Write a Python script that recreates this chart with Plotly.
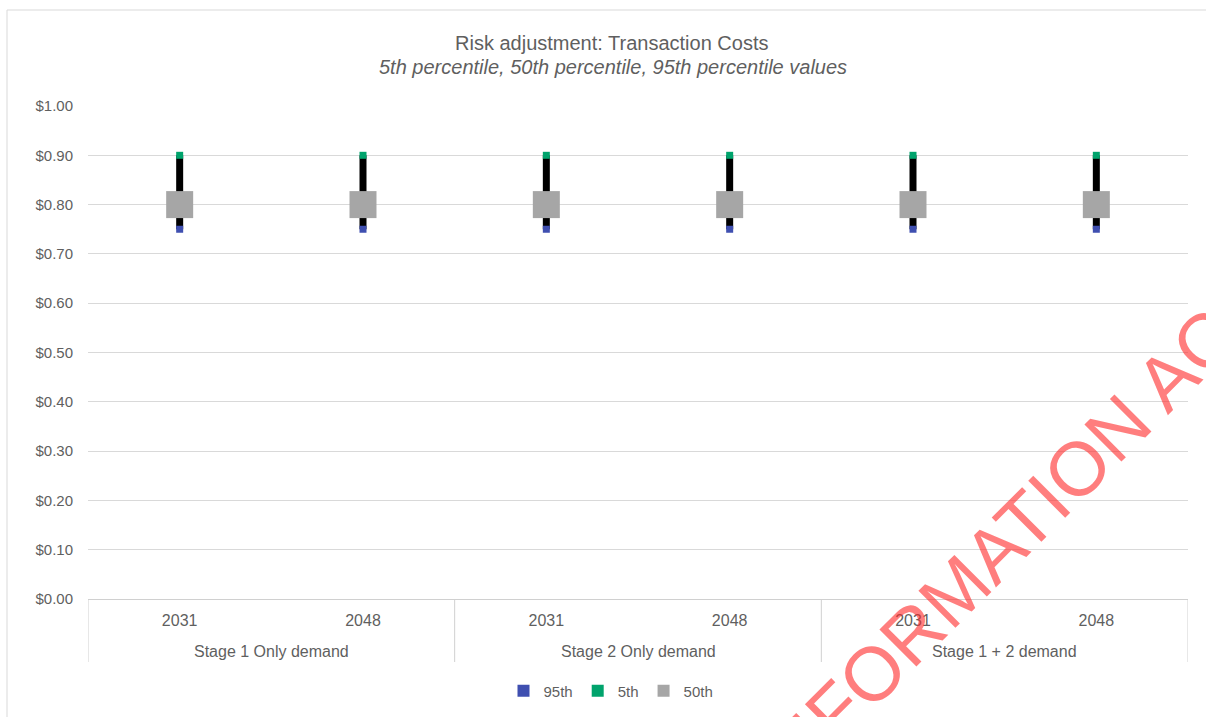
import plotly.graph_objects as go

# ---- data ----
years = ["2031", "2048", "2031", "2048", "2031", "2048"]
groups = ["Stage 1 Only demand", "Stage 2 Only demand", "Stage 1 + 2 demand"]
p95 = [0.75, 0.75, 0.75, 0.75, 0.75, 0.75]
p5 = [0.90, 0.90, 0.90, 0.90, 0.90, 0.90]
p50 = [0.80, 0.80, 0.80, 0.80, 0.80, 0.80]
y_ticks = [0.0, 0.1, 0.2, 0.3, 0.4, 0.5, 0.6, 0.7, 0.8, 0.9, 1.0]
y_ticktext = ["$0.00", "$0.10", "$0.20", "$0.30", "$0.40", "$0.50",
              "$0.60", "$0.70", "$0.80", "$0.90", "$1.00"]

xpos = list(range(len(years)))
FONT = "Liberation Sans, Arial, sans-serif"
GREY_TXT = "#5f5f5f"

fig = go.Figure()

# high-low lines (95th to 5th)
lx, ly = [], []
for i in xpos:
    lx += [i, i, None]
    ly += [p95[i], p5[i], None]
fig.add_trace(go.Scatter(x=lx, y=ly, mode="lines",
                         line=dict(color="#000000", width=7),
                         showlegend=False, hoverinfo="skip"))

fig.add_trace(go.Scatter(x=xpos, y=p95, mode="markers", name="95th",
                         marker=dict(symbol="square", size=7, color="#3f4fb0")))
fig.add_trace(go.Scatter(x=xpos, y=p5, mode="markers", name="5th",
                         marker=dict(symbol="square", size=7, color="#00a36c")))
fig.add_trace(go.Scatter(x=xpos, y=p50, mode="markers", name="50th",
                         marker=dict(symbol="square", size=27, color="#a6a6a6")))

# plot geometry (px): left 88, right 1188, top 106, bottom 599
W, H = 1206, 717
L, R, T, B = 88, 18, 106, 118
pw, ph = W - L - R, H - T - B

def py(px_y):
    return (H - B - px_y) / ph

def px(px_x):
    return (px_x - L) / pw

shapes = []
# group dividers on category axis
for xb in [-0.5, 1.5, 3.5, 5.5]:
    shapes.append(dict(type="line", xref="x", yref="paper", x0=xb, x1=xb,
                       y0=0, y1=py(662), line=dict(color="#d0d0d0", width=1)))
# outer chart border
shapes.append(dict(type="rect", xref="paper", yref="paper",
                   x0=px(7), x1=px(1260), y0=py(760), y1=py(10),
                   line=dict(color="#d9d9d9", width=1), fillcolor="rgba(0,0,0,0)",
                   layer="below"))

annotations = []
for gi, g in enumerate(groups):
    annotations.append(dict(x=gi * 2 + 0.5, xref="x", y=py(651), yref="paper",
                            text=g, showarrow=False,
                            font=dict(family=FONT, size=16, color=GREY_TXT),
                            xanchor="center", yanchor="middle"))
annotations.append(dict(x=px(611), xref="paper", y=py(43), yref="paper",
                        text="Risk adjustment: Transaction Costs", showarrow=False,
                        font=dict(family=FONT, size=20, color=GREY_TXT),
                        xanchor="center", yanchor="middle"))
annotations.append(dict(x=px(613), xref="paper", y=py(67), yref="paper",
                        text="<i>5th percentile, 50th percentile, 95th percentile values</i>",
                        showarrow=False,
                        font=dict(family=FONT, size=20, color=GREY_TXT),
                        xanchor="center", yanchor="middle"))
# watermark
annotations.append(dict(x=px(1010), xref="paper", y=py(535), yref="paper",
                        text="INFORMATION ACT", showarrow=False, textangle=-45,
                        font=dict(family=FONT, size=76, color="rgba(255,40,40,0.6)"),
                        xanchor="center", yanchor="middle"))

fig.update_layout(
    width=W, height=H,
    margin=dict(l=L, r=R, t=T, b=B, autoexpand=False),
    paper_bgcolor="white", plot_bgcolor="white",
    font=dict(family=FONT, color=GREY_TXT),
    shapes=shapes, annotations=annotations,
    legend=dict(orientation="h", x=px(611), xanchor="center", y=py(691),
                yanchor="middle", itemsizing="constant",
                font=dict(family=FONT, size=15, color=GREY_TXT),
                itemwidth=30, tracegroupgap=0),
    xaxis=dict(range=[-0.5, 5.5], tickmode="array", tickvals=xpos, ticktext=years,
               showgrid=False, zeroline=False, showline=True, linecolor="#d0d0d0",
               ticks="", ticklabelstandoff=7,
               tickfont=dict(family=FONT, size=16, color=GREY_TXT), fixedrange=True),
    yaxis=dict(range=[0, 1.0], tickmode="array", tickvals=y_ticks, ticktext=y_ticktext,
               showgrid=True, gridcolor="#d9d9d9", gridwidth=1, zeroline=False,
               ticks="", ticklabelstandoff=14,
               tickfont=dict(family=FONT, size=15, color=GREY_TXT), fixedrange=True),
)

fig.write_html("out.html", config={"displayModeBar": False},
               post_script="document.body.style.margin='0px';document.body.style.overflow='hidden';")
